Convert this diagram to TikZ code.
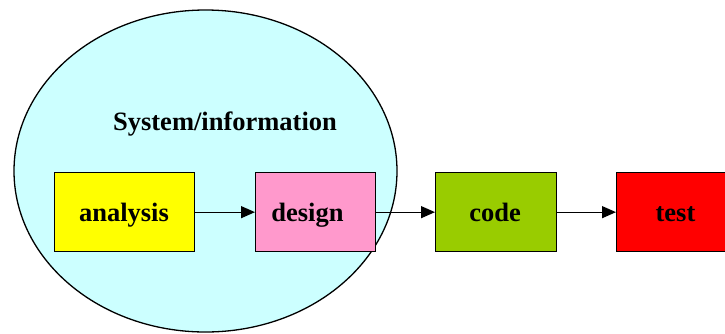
\documentclass[tikz,border=0pt]{standalone}
\usepackage{fontspec}
\setmainfont{Liberation Serif}
\usetikzlibrary{arrows.meta,shapes.geometric}
\definecolor{skycyan}{HTML}{CCFFFF}
\definecolor{stageyellow}{HTML}{FFFF00}
\definecolor{stagepink}{HTML}{FF99CC}
\definecolor{stagegreen}{HTML}{99CC00}
\definecolor{stagered}{HTML}{FF0000}
\begin{document}
\begin{tikzpicture}[x=1pt,y=-1pt,
  stagebox/.style={draw=black, line width=1.3pt, inner sep=0pt, anchor=north west},
  label/.style={font=\fontsize{26.5}{30}\selectfont\bfseries, anchor=base, inner sep=0pt},
  flow/.style={line width=1.3pt, -{Triangle[length=14pt,width=12pt]}}]
  \useasboundingbox (0,0) rectangle (725,333);
  \clip (0,0) rectangle (725,333);
  % system/information scope
  \node[draw=black, fill=skycyan, line width=1.3pt, ellipse, minimum width=383pt, minimum height=322pt, inner sep=0pt] (scope) at (205.5,171) {};
  \node[label] (title) at (225,130) {System/information};
  % stages
  \node[stagebox, fill=stageyellow, minimum width=140pt, minimum height=79pt] (analysis) at (54,172) {};
  \node[stagebox, fill=stagepink, minimum width=120pt, minimum height=79pt] (design) at (255,172) {};
  \node[stagebox, fill=stagegreen, minimum width=121pt, minimum height=79pt] (code) at (435,172) {};
  \node[stagebox, fill=stagered, minimum width=140pt, minimum height=79pt] (test) at (616,172) {};
  \node[label] (analysisT) at (124,221) {analysis};
  \node[label] (designT) at (307.5,221) {design};
  \node[label] (codeT) at (495,221) {code};
  \node[label] (testT) at (675.5,221) {test};
  % flow between stages
  \draw[flow] (analysis.east) -- (design.west);
  \draw[flow] (design.east) -- (code.west);
  \draw[flow] (code.east) -- (test.west);
\end{tikzpicture}
\end{document}
